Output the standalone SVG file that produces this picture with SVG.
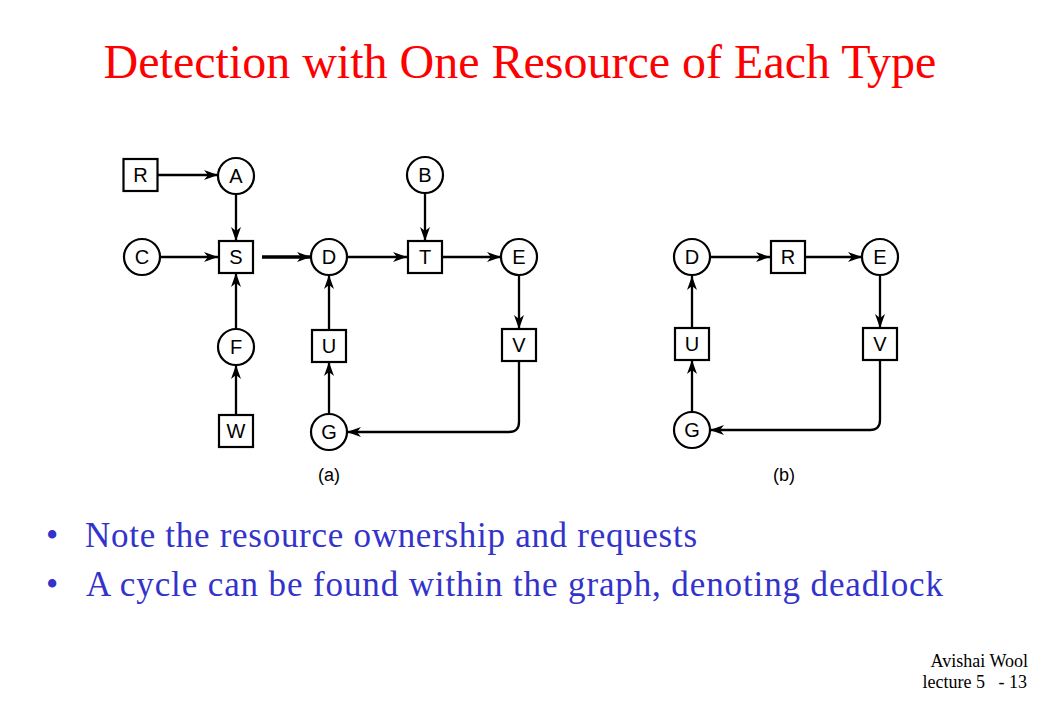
<svg xmlns="http://www.w3.org/2000/svg" width="1040" height="720" viewBox="0 0 1040 720">
<defs>
<marker id="ah" markerUnits="userSpaceOnUse" markerWidth="16" markerHeight="12" refX="14" refY="5" orient="auto">
<path d="M0,0 L14,5 L0,10 L4,5 z" fill="#000"/>
</marker>
<style>
.n{fill:#fff;stroke:#000;stroke-width:2.2}
.l{font-family:"Liberation Sans",Arial,sans-serif;font-size:20px;text-anchor:middle;dominant-baseline:central;fill:#000}
.c{fill:none;stroke:#000;stroke-width:2.3;marker-end:url(#ah)}
.thick{stroke-width:3.3}
.cap{font-family:"Liberation Sans",Arial,sans-serif;font-size:18px;text-anchor:middle;fill:#000}
.b{font-family:"Liberation Serif","Times New Roman",serif;font-size:35px;fill:#3333CC}
.f{font-family:"Liberation Serif","Times New Roman",serif;font-size:18px;fill:#000;text-anchor:end}
</style>
</defs>
<rect width="1040" height="720" fill="#fff"/>
<text x="520" y="78" text-anchor="middle" font-family="'Liberation Serif','Times New Roman',serif" font-size="48" fill="#FF0000">Detection with One Resource of Each Type</text>

<g id="connectors">
<path class="c" d="M158,175 L218,175"/>
<path class="c" d="M236,194 L236,241"/>
<path class="c" d="M160,257 L218,257"/>
<path class="c thick" d="M262,257 L311,257"/>
<path class="c" d="M347,257 L407,257"/>
<path class="c" d="M425,193 L425,241"/>
<path class="c" d="M442,257 L501,257"/>
<path class="c" d="M519,275 L519,329"/>
<path class="c" d="M519,361 L519,422 Q519,432 509,432 L347,432"/>
<path class="c" d="M236,329 L236,273"/>
<path class="c" d="M236,415 L236,365"/>
<path class="c" d="M329,330 L329,275"/>
<path class="c" d="M329,414 L329,362"/>
<path class="c" d="M710,257 L770,257"/>
<path class="c" d="M805,257 L862,257"/>
<path class="c" d="M880,276 L880,328"/>
<path class="c" d="M880,360 L880,420 Q880,430 870,430 L710,430"/>
<path class="c" d="M692,328 L692,276"/>
<path class="c" d="M692,412 L692,360"/>
</g>

<g id="a-R"><rect class="n" x="123.5" y="159" width="34" height="32"/><text class="l" x="140.5" y="175">R</text></g>
<g id="a-A"><circle class="n" cx="236" cy="176" r="18"/><text class="l" x="236" y="176">A</text></g>
<g id="a-B"><circle class="n" cx="425" cy="175" r="18"/><text class="l" x="425" y="175">B</text></g>
<g id="a-C"><circle class="n" cx="142" cy="257" r="18"/><text class="l" x="142" y="257">C</text></g>
<g id="a-S"><rect class="n" x="219" y="241" width="34" height="32"/><text class="l" x="236" y="257">S</text></g>
<g id="a-D"><circle class="n" cx="329" cy="257" r="18"/><text class="l" x="329" y="257">D</text></g>
<g id="a-T"><rect class="n" x="408" y="241" width="34" height="32"/><text class="l" x="425" y="257">T</text></g>
<g id="a-E"><circle class="n" cx="519" cy="257" r="18"/><text class="l" x="519" y="257">E</text></g>
<g id="a-F"><circle class="n" cx="236" cy="347" r="18"/><text class="l" x="236" y="347">F</text></g>
<g id="a-U"><rect class="n" x="312" y="330" width="34" height="32"/><text class="l" x="329" y="346">U</text></g>
<g id="a-V"><rect class="n" x="502" y="329" width="34" height="32"/><text class="l" x="519" y="345">V</text></g>
<g id="a-W"><rect class="n" x="219" y="415" width="34" height="32"/><text class="l" x="236" y="431">W</text></g>
<g id="a-G"><circle class="n" cx="329" cy="432" r="18"/><text class="l" x="329" y="432">G</text></g>
<text class="cap" x="329" y="481">(a)</text>

<g id="b-D"><circle class="n" cx="692" cy="257" r="18"/><text class="l" x="692" y="257">D</text></g>
<g id="b-R"><rect class="n" x="771" y="241" width="34" height="32"/><text class="l" x="788" y="257">R</text></g>
<g id="b-E"><circle class="n" cx="880" cy="257" r="18"/><text class="l" x="880" y="257">E</text></g>
<g id="b-U"><rect class="n" x="675" y="328" width="34" height="32"/><text class="l" x="692" y="344">U</text></g>
<g id="b-V"><rect class="n" x="863" y="328" width="34" height="32"/><text class="l" x="880" y="344">V</text></g>
<g id="b-G"><circle class="n" cx="692" cy="430" r="18"/><text class="l" x="692" y="430">G</text></g>
<text class="cap" x="784" y="481">(b)</text>

<text class="b" x="46" y="547">•</text>
<text class="b" x="85" y="547" textLength="612" lengthAdjust="spacing">Note the resource ownership and requests</text>
<text class="b" x="46" y="596">•</text>
<text class="b" x="86" y="596" textLength="857" lengthAdjust="spacing">A cycle can be found within the graph, denoting deadlock</text>

<text class="f" x="1028" y="667">Avishai Wool</text>
<text class="f" x="1027" y="688" xml:space="preserve">lecture 5   - 13</text>
</svg>
